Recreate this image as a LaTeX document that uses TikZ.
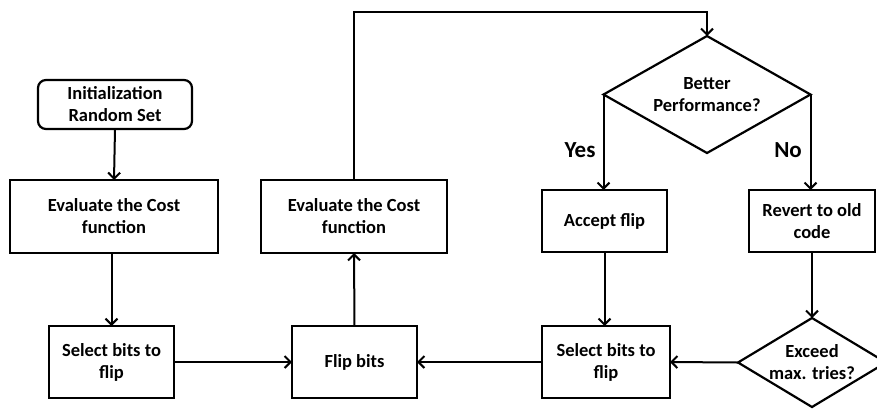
\documentclass[tikz,border=0pt]{standalone}
\usepackage{fontspec}
\setmainfont{Carlito}
\usetikzlibrary{shapes.geometric,arrows.meta}
\begin{document}
\begin{tikzpicture}[x=1pt,y=-1pt,
  every node/.style={font=\bfseries\fontsize{18.5}{22}\selectfont, align=center},
  box/.style={draw, line width=2.2pt, rectangle, inner sep=0pt, outer sep=0pt},
  dia/.style={draw, line width=2.2pt, diamond, inner sep=0pt, outer sep=0pt},
  lbl/.style={font=\bfseries\fontsize{23}{26}\selectfont},
  conn/.style={line width=2pt, -{Straight Barb[length=6pt,width=12pt,line width=2pt]}}]
\useasboundingbox (0,0) rectangle (877,408);
\node[box, rounded corners=8pt, minimum width=154pt, minimum height=49pt] (init) at (115,104.5) {Initialization\\Random Set};
\node[box, minimum width=208pt, minimum height=73pt] (eval1) at (114,216.5) {Evaluate the Cost\\function};
\node[box, minimum width=125pt, minimum height=72pt] (sel1) at (111.5,362) {Select bits to\\flip};
\node[box, minimum width=125pt, minimum height=72pt] (flip) at (354.5,362) {Flip bits};
\node[box, minimum width=186pt, minimum height=73pt] (eval2) at (354,216.5) {Evaluate the Cost\\function};
\node[dia, aspect=1.77, minimum width=207pt, minimum height=117pt] (d1) at (707,94.5) {Better\\Performance?};
\node[box, minimum width=125pt, minimum height=62pt] (acc) at (604.5,221) {Accept flip};
\node[box, minimum width=126pt, minimum height=62pt] (rev) at (812,221) {Revert to old\\code};
\node[box, minimum width=128pt, minimum height=72pt] (sel2) at (606,362) {Select bits to\\flip};
\node[dia, aspect=1.66, minimum width=148pt, minimum height=89pt] (d2) at (812,362.5) {Exceed\\max. tries?};
\node[lbl] (yes) at (580,150) {Yes};
\node[lbl] (no) at (788,150) {No};
\coordinate (c1) at (354,12);
\coordinate (c2) at (707,12);
\draw[conn] (init.south) -- (eval1.north);
\draw[conn] (eval1.south -| sel1.north) -- (sel1.north);
\draw[conn] (sel1.east) -- (flip.west);
\draw[conn] (flip.north) -- (eval2.south);
\draw[conn] (eval2.north) -- (c1) -- (c2) -- (d1.north);
\draw[conn] (d1.west) -- (d1.west |- acc.north);
\draw[conn] (d1.east) -- (d1.east |- rev.north);
\draw[conn] (acc.south) -- (acc.south |- sel2.north);
\draw[conn] (rev.south) -- (d2.north);
\draw[conn] (d2.west) -- (sel2.east);
\draw[conn] (sel2.west) -- (flip.east);
\end{tikzpicture}
\end{document}
